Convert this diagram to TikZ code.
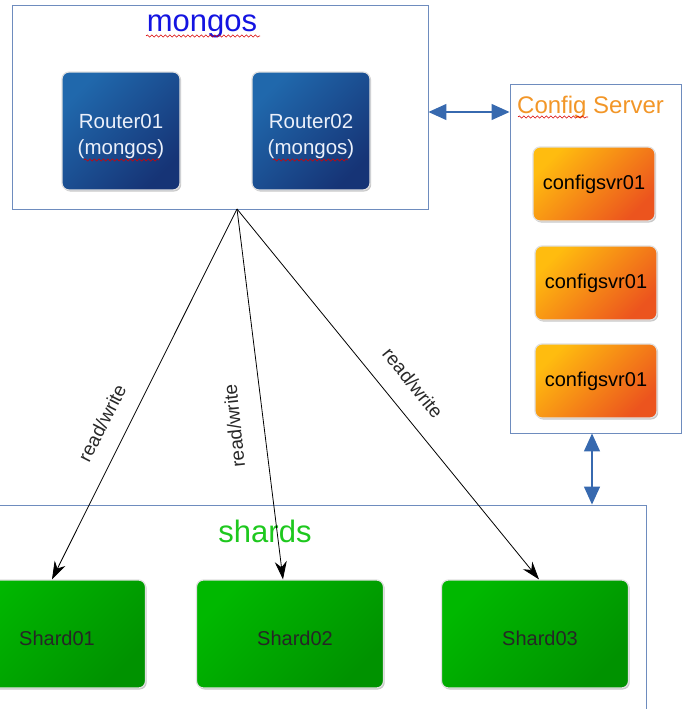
\documentclass[tikz,border=0pt]{standalone}
\usepackage{fontspec}
\setmainfont{Liberation Sans}
\usetikzlibrary{arrows.meta,shadows,decorations.pathmorphing,calc}
\definecolor{framec}{RGB}{110,140,190}
\definecolor{barrowc}{RGB}{55,105,175}
\definecolor{rtop}{RGB}{32,104,172}
\definecolor{rbot}{RGB}{22,52,118}
\definecolor{ctop}{RGB}{255,188,15}
\definecolor{cbot}{RGB}{236,84,30}
\definecolor{stop}{RGB}{0,184,0}
\definecolor{sbot}{RGB}{0,146,0}
\definecolor{mtitle}{RGB}{20,20,225}
\definecolor{ctitle}{RGB}{242,150,40}
\definecolor{stitle}{RGB}{30,200,30}
\definecolor{rtext}{RGB}{235,240,250}
\definecolor{lblc}{RGB}{40,40,40}
\begin{document}
\begin{tikzpicture}[x=1pt,y=-1pt,
  frame/.style={draw=framec, line width=0.9pt, inner sep=0pt},
  box/.style={rounded corners=7pt, draw=white!88!black, line width=1.2pt,
    drop shadow={shadow xshift=1.2pt, shadow yshift=-1.5pt, fill=black, opacity=0.22},
    align=center, inner sep=0pt},
  router/.style={box, top color=rtop, bottom color=rbot, shading angle=45,
    minimum width=118pt, minimum height=118pt},
  rtxt/.style={inner sep=0pt, align=center, text=rtext,
    font=\fontsize{20.5}{26}\selectfont},
  cfg/.style={box, top color=ctop, bottom color=cbot, shading angle=45,
    minimum width=122pt, minimum height=74pt, text=black,
    font=\fontsize{20}{24}\selectfont},
  shard/.style={box, top color=stop, bottom color=sbot, shading angle=45,
    minimum width=187pt, minimum height=108pt},
  stxt/.style={inner sep=0pt, text=black!85, font=\fontsize{20}{24}\selectfont},
  ttl/.style={inner sep=0pt},
  lbl/.style={inner sep=0pt, text=lblc, font=\fontsize{19}{22}\selectfont},
  rw/.style={-{Stealth[length=18pt,width=12pt]}, line width=0.8pt, black},
  barrow/.style={{Triangle[length=18pt,width=16pt]}-{Triangle[length=18pt,width=16pt]}, line width=1.3pt, barrowc},
  squig/.style={red!85!black, line width=0.6pt, decorate,
    decoration={snake, amplitude=1.1pt, segment length=4.5pt}}
]
\useasboundingbox (0,0) rectangle (682,709);
\clip (0,0) rectangle (682,709);

% frames
\node[frame, minimum width=416pt, minimum height=204pt] (mongos) at (220,107) {};
\node[frame, minimum width=171pt, minimum height=349pt] (config) at (595.5,258.5) {};
\node[frame, minimum width=706pt, minimum height=255pt] (shards) at (293,632.5) {};

% titles
\node[ttl, anchor=base, text=mtitle, font=\fontsize{31}{34}\selectfont] (tm) at (202,32) {mongos};
\node[ttl, anchor=base west, text=ctitle, font=\fontsize{24}{28}\selectfont] (tc) at (517,113) {Config Server};
\node[ttl, anchor=base, text=stitle, font=\fontsize{31}{34}\selectfont] (ts) at (265,542) {shards};

% routers
\node[router] (r1) at (121,131) {};
\node[router] (r2) at (311,131) {};
\node[rtxt] (r1t) at ([yshift=-5pt]r1.center) {Router01\\(mongos)};
\node[rtxt] (r2t) at ([yshift=-5pt]r2.center) {Router02\\(mongos)};

% config servers
\node[cfg] (c1) at (594,184) {configsvr01};
\node[cfg] (c2) at (596,283) {configsvr01};
\node[cfg] (c3) at (596,381) {configsvr01};

% shards
\node[shard] (s1) at (52,634) {};
\node[shard] (s2) at (290,634) {};
\node[shard] (s3) at (535,634) {};
\node[stxt] (s1t) at ([xshift=5pt,yshift=-4pt]s1.center) {Shard01};
\node[stxt] (s2t) at ([xshift=5pt,yshift=-4pt]s2.center) {Shard02};
\node[stxt] (s3t) at ([xshift=5pt,yshift=-4pt]s3.center) {Shard03};

% spell-check squiggles
\draw[squig] (146,36) -- (260,36);
\draw[squig] (84,160) -- (159,160);
\draw[squig] (273,160) -- (348,160);
\draw[squig] (518,117) -- (588,117);

% read/write connectors
\coordinate (apex) at (237,209);
\draw[rw] (apex) -- (s1.north);
\draw[rw] (apex) -- ([xshift=-7pt]s2.north);
\draw[rw] (apex) -- ([xshift=4pt]s3.north);
\node[lbl, rotate=63] (l1) at (102,423) {read/write};
\node[lbl, rotate=96] (l2) at (234,426) {read/write};
\node[lbl, rotate=-51] (l3) at (413,383) {read/write};

% blue double arrows
\coordinate (h1) at ([yshift=-5pt]mongos.east);
\draw[barrow] (h1) -- (h1 -| config.west);
\coordinate (v1) at ([xshift=-3.5pt]config.south);
\draw[barrow] (v1) -- (v1 |- shards.north);
\end{tikzpicture}
\end{document}
